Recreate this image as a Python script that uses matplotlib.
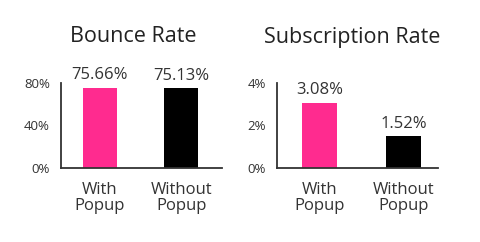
import matplotlib
matplotlib.use("Agg")
import matplotlib.pyplot as plt

plt.rcParams['font.family'] = ['Open Sans', 'DejaVu Sans']

# data
groups = ['With\nPopup', 'Without\nPopup']
bounce = [75.66, 75.13]
subscription = [3.08, 1.52]
bounce_ticks = [0, 40, 80]
sub_ticks = [0, 2, 4]
colors = ['#FF2B8F', '#000000']
text_color = '#333333'

fig = plt.figure(figsize=(4.8, 2.42), dpi=100)
ax1 = fig.add_axes([0.127, 0.306, 0.335, 0.351])
ax2 = fig.add_axes([0.577, 0.306, 0.335, 0.351])


def draw(ax, values, ticks, title, xlim, title_x):
    x = range(len(values))
    ax.bar(x, values, width=0.42, color=colors)
    ax.set_ylim(0, ticks[-1])
    ax.set_xlim(*xlim)
    ax.set_yticks(ticks)
    ax.set_yticklabels([f'{t}%' for t in ticks], fontsize=9.5, color=text_color)
    ax.set_xticks(list(x))
    ax.set_xticklabels(groups, fontsize=12, color=text_color, linespacing=1.0)
    ax.tick_params(length=0)
    ax.tick_params(axis='y', pad=8)
    ax.tick_params(axis='x', pad=10)
    for s in ['top', 'right']:
        ax.spines[s].set_visible(False)
    for s in ['left', 'bottom']:
        ax.spines[s].set_color(text_color)
        ax.spines[s].set_linewidth(1.3)
    for i, v in enumerate(values):
        ax.annotate(f'{v:.2f}%', (i, v), xytext=(0, 3), textcoords='offset points',
                    ha='center', va='bottom', fontsize=12, color=text_color)
    fig.text(title_x, 1 - 37 / 242, title, ha='center', va='center',
             fontsize=15.5, color='#222222')


draw(ax1, bounce, bounce_ticks, 'Bounce Rate', (-0.48, 1.5), 133 / 480)
draw(ax2, subscription, sub_ticks, 'Subscription Rate', (-0.51, 1.41), 352 / 480)

fig.savefig('out.png', dpi=100, facecolor='white')
